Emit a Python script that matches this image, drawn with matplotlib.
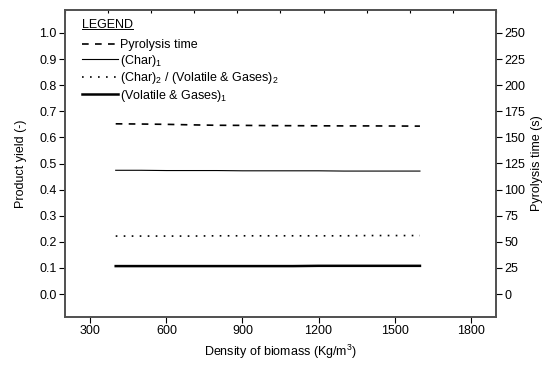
import numpy as np
import matplotlib
matplotlib.use("Agg")
import matplotlib.pyplot as plt
from matplotlib.lines import Line2D

plt.rcParams['font.family'] = ['Liberation Sans', 'DejaVu Sans']
plt.rcParams['mathtext.fontset'] = 'custom'
plt.rcParams['mathtext.rm'] = 'Liberation Sans'
plt.rcParams['mathtext.it'] = 'Liberation Sans'

density = [400, 500, 600, 700, 800, 900, 1000, 1100, 1200, 1300, 1400, 1500, 1600]
pyro_time = [163.0, 162.8, 162.5, 162.0, 161.6, 161.5, 161.3, 161.2, 161.1, 161.0, 161.0, 160.9, 160.8]
char1 = [0.474, 0.474, 0.473, 0.473, 0.473, 0.472, 0.472, 0.472, 0.472, 0.471, 0.471, 0.471, 0.471]
char2_vg2 = [0.222, 0.222, 0.222, 0.222, 0.223, 0.223, 0.223, 0.223, 0.223, 0.223, 0.224, 0.224, 0.224]
vg1 = [0.107, 0.107, 0.107, 0.107, 0.107, 0.107, 0.107, 0.107, 0.108, 0.108, 0.108, 0.108, 0.108]

xticks = [300, 600, 900, 1200, 1500, 1800]
yticks = [0.0, 0.1, 0.2, 0.3, 0.4, 0.5, 0.6, 0.7, 0.8, 0.9, 1.0]
y2ticks = [0, 25, 50, 75, 100, 125, 150, 175, 200, 225, 250]

fig = plt.figure(figsize=(5.53, 3.66), dpi=100)
ax = fig.add_axes([65/553, 1-317/366, (496-65)/553, (317-10)/366])
ax2 = ax.twinx()

spc = '#505050'
fs = 9

l1, = ax2.plot(density, pyro_time, color='black', lw=1.2, linestyle=(0, (4, 3.8)), label='Pyrolysis time')
l2, = ax.plot(density, char1, color='black', lw=0.8, label='(Char)$_1$')
l3, = ax.plot(density, char2_vg2, color='black', lw=1.2, linestyle=(0, (1, 3.8)),
              label='(Char)$_2$ / (Volatile & Gases)$_2$')
l4, = ax.plot(density, vg1, color='black', lw=1.8, label='(Volatile & Gases)$_1$')

ax.set_xlim(200, 1900)
ax.set_ylim(-0.088, 1.088)
ax2.set_ylim(-22, 272)
ax.set_xticks(xticks)
ax.set_yticks(yticks)
ax.set_yticklabels([f'{v:.1f}' for v in yticks])
ax2.set_yticks(y2ticks)

for a in (ax, ax2):
    for s in a.spines.values():
        s.set_color(spc)
        s.set_linewidth(1.2)
ax.tick_params(axis='both', direction='out', length=4, width=0.8, color='black', labelsize=fs, pad=2)
ax2.tick_params(axis='y', direction='out', length=4, width=0.8, color='black', labelsize=fs, pad=2)

# small inward ticks on top spine
ax.set_xticks(np.linspace(200, 1900, 11), minor=True)
ax.tick_params(axis='x', which='minor', bottom=False, top=True, direction='in', length=2, width=0.8)

ax.set_xlabel('Density of biomass (Kg/m$^3$)', fontsize=fs, labelpad=4)
ax.set_ylabel('Product yield (-)', fontsize=fs, labelpad=9)
ax2.set_ylabel('Pyrolysis time (s)', fontsize=fs, labelpad=4)

ax2.set_zorder(ax.get_zorder() + 1)
leg = ax2.legend(handles=[l1, l2, l3, l4], loc='upper left', frameon=False,
                 fontsize=fs, title='LEGEND', title_fontsize=fs,
                 alignment='left', handlelength=2.9, handletextpad=0.15,
                 labelspacing=0.12, borderaxespad=0.3, bbox_to_anchor=(0.018, 1.0))
leg._legend_box.sep = 6

fig.canvas.draw()
tb = leg.get_title().get_window_extent(fig.canvas.get_renderer())
inv = fig.transFigure.inverted()
(x0, y0), (x1, y1) = inv.transform([(tb.x0, tb.y0 + 2), (tb.x1, tb.y0 + 2)])
fig.add_artist(Line2D([x0, x1], [y0, y1], color='black', lw=0.7, transform=fig.transFigure))

fig.savefig('out.png', dpi=100)
